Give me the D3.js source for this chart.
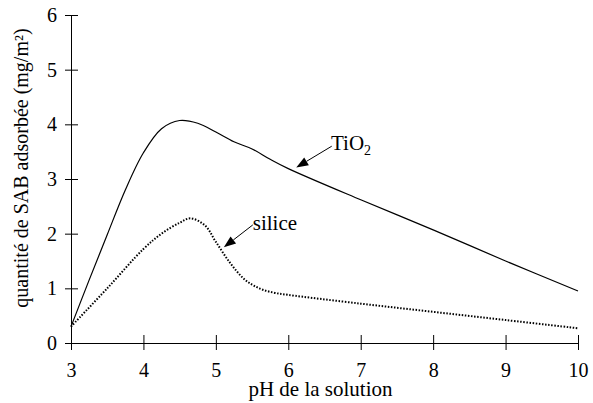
<!DOCTYPE html>
<html>
<head>
<meta charset="utf-8">
<script src="https://cdn.jsdelivr.net/npm/d3@7"></script>
<style>
  body { margin: 0; background: #fff; }
  svg { display: block; }
</style>
</head>
<body>
<svg id="chart" width="593" height="403"></svg>
<script>
// Adsorbed SAB vs. pH, for TiO2 and silica surfaces
const phTio2 = [3.0, 3.25, 3.5, 3.75, 4.0, 4.25, 4.5, 4.75, 5.0, 5.25, 5.5, 5.75, 6.0, 7.0, 8.0, 9.0, 10.0];
const tio2   = [0.3, 1.15, 1.98, 2.8, 3.48, 3.92, 4.07, 4.02, 3.86, 3.68, 3.55, 3.36, 3.19, 2.62, 2.07, 1.5, 0.95];

const phSilice = [3.0, 3.5, 4.0, 4.25, 4.5, 4.65, 4.85, 5.0, 5.2, 5.4, 5.6, 5.8, 6.0, 7.0, 8.0, 9.0, 10.0];
const silice   = [0.3, 1.0, 1.72, 2.0, 2.2, 2.28, 2.15, 1.85, 1.46, 1.16, 1.0, 0.92, 0.88, 0.72, 0.57, 0.42, 0.27];

const xTicks = [3, 4, 5, 6, 7, 8, 9, 10];
const yTicks = [0, 1, 2, 3, 4, 5, 6];

const xTitle = "pH de la solution";
const yTitle = "quantité de SAB adsorbée (mg/m²)";

// label anchor (pH, value), arrow start and arrow tip in data units
const notes = [
  { text: "TiO", sub: "2", at: [6.59, 3.53], from: [6.6, 3.6], to: [6.11, 3.21] },
  { text: "silice", sub: "",  at: [5.51, 2.07], from: [5.51, 2.16], to: [5.11, 1.75] }
];

const FONT = "Liberation Serif, Times New Roman, DejaVu Serif, serif";

const svg = d3.select("#chart");
const x = d3.scaleLinear().domain([3, 10]).range([71, 578]);
const y = d3.scaleLinear().domain([0, 6]).range([343, 15]);

// axes: ticks cross the axis line
const gx = svg.append("g").attr("transform", `translate(0,${y(0)})`)
  .call(d3.axisBottom(x).tickValues(xTicks).tickFormat(d3.format("d"))
    .tickSizeOuter(0).tickSize(7).tickPadding(13));
gx.selectAll(".tick line").attr("y1", -8);
const gy = svg.append("g").attr("transform", `translate(${x(3)},0)`)
  .call(d3.axisLeft(y).tickValues(yTicks).tickFormat(d3.format("d"))
    .tickSizeOuter(0).tickSize(6).tickPadding(8));
gy.selectAll(".tick line").attr("x1", 7);
svg.selectAll("g").attr("font-family", FONT).attr("font-size", 20);
svg.selectAll(".domain, .tick line").attr("stroke", "#000").attr("stroke-width", 1);
svg.selectAll(".tick text").attr("fill", "#000");

// axis titles
svg.append("text").attr("x", (x(3) + x(10)) / 2 - 4).attr("y", 396)
  .attr("text-anchor", "middle").attr("font-family", FONT).attr("font-size", 21).text(xTitle);
svg.append("text").attr("transform", `translate(28,${(y(0) + y(6)) / 2 - 11}) rotate(-90)`)
  .attr("text-anchor", "middle").attr("font-family", FONT).attr("font-size", 20).text(yTitle);

// curves
const line = d3.line().x(d => x(d[0])).y(d => y(d[1])).curve(d3.curveCatmullRom.alpha(0.5));
svg.append("path").datum(d3.zip(phTio2, tio2)).attr("d", line)
  .attr("fill", "none").attr("stroke", "#000").attr("stroke-width", 1.2);
svg.append("path").datum(d3.zip(phSilice, silice)).attr("d", line)
  .attr("fill", "none").attr("stroke", "#000").attr("stroke-width", 2)
  .attr("stroke-dasharray", "1.5,1.6");

// annotations with arrows
notes.forEach(n => {
  const t = svg.append("text").attr("x", x(n.at[0])).attr("y", y(n.at[1]))
    .attr("font-family", FONT).attr("font-size", 21).text(n.text);
  if (n.sub) t.append("tspan").attr("dy", 5).attr("font-size", 14).text(n.sub);
  const x1 = x(n.from[0]), y1 = y(n.from[1]), x2 = x(n.to[0]), y2 = y(n.to[1]);
  const ang = Math.atan2(y2 - y1, x2 - x1), len = 12, half = 4.5;
  const bx = x2 - len * Math.cos(ang), by = y2 - len * Math.sin(ang);
  svg.append("line").attr("x1", x1).attr("y1", y1).attr("x2", bx).attr("y2", by)
    .attr("stroke", "#000").attr("stroke-width", 1);
  svg.append("path").attr("fill", "#000").attr("d",
    `M${x2},${y2}L${bx + half * Math.sin(ang)},${by - half * Math.cos(ang)}L${bx - half * Math.sin(ang)},${by + half * Math.cos(ang)}Z`);
});
</script>
</body>
</html>
